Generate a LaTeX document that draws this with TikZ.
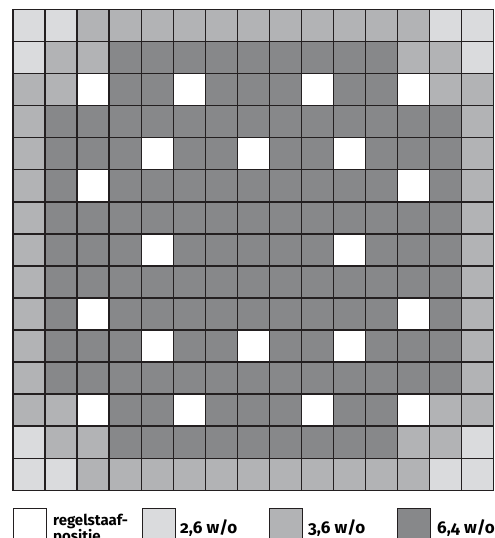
\documentclass[tikz,border=0pt]{standalone}
\usepackage{fontspec}
\setmainfont{Fira Sans}[Numbers=OldStyle]
\definecolor{lijn}{HTML}{231F20}
\definecolor{w}{HTML}{FFFFFF}
\definecolor{l}{HTML}{DADBDD}
\definecolor{m}{HTML}{B2B3B5}
\definecolor{d}{HTML}{87888A}
\begin{document}
\begin{tikzpicture}[x=1pt, y=-1pt,
  cel/.style={draw=lijn, line width=1.4pt},
  vak/.style={rectangle, draw=lijn, line width=1.4pt, minimum width=33pt,
              minimum height=33pt, inner sep=0pt, anchor=north west},
  uitleg/.style={font=\bfseries\fontsize{17}{17}\selectfont, anchor=base west,
                 align=left, inner sep=0pt}
]
  \useasboundingbox (0,0) rectangle (495,538);
  \clip (0,0) rectangle (495,538);

  % Kern: 15 x 15 posities
  \foreach \rij [count=\r from 0] in {
    {l,l,m,m,m,m,m,m,m,m,m,m,m,l,l},
    {l,m,m,d,d,d,d,d,d,d,d,d,m,m,l},
    {m,m,w,d,d,w,d,d,d,w,d,d,w,m,m},
    {m,d,d,d,d,d,d,d,d,d,d,d,d,d,m},
    {m,d,d,d,w,d,d,w,d,d,w,d,d,d,m},
    {m,d,w,d,d,d,d,d,d,d,d,d,w,d,m},
    {m,d,d,d,d,d,d,d,d,d,d,d,d,d,m},
    {m,d,d,d,w,d,d,d,d,d,w,d,d,d,m},
    {m,d,d,d,d,d,d,d,d,d,d,d,d,d,m},
    {m,d,w,d,d,d,d,d,d,d,d,d,w,d,m},
    {m,d,d,d,w,d,d,w,d,d,w,d,d,d,m},
    {m,d,d,d,d,d,d,d,d,d,d,d,d,d,m},
    {m,m,w,d,d,w,d,d,d,w,d,d,w,m,m},
    {l,m,m,d,d,d,d,d,d,d,d,d,m,m,l},
    {l,l,m,m,m,m,m,m,m,m,m,m,m,l,l}}
    \foreach \k [count=\c from 0] in \rij
      \path[cel, fill=\k] (13+\c*32.05, 9.5+\r*32.05) rectangle ++(32.05,32.05);

  % Legenda
  \node[vak, fill=w] (vakRegel) at (13,508) {};
  \node[vak, fill=l] (vak26) at (142,508) {};
  \node[vak, fill=m] (vak36) at (269,508) {};
  \node[vak, fill=d] (vak64) at (397,508) {};
  \node[uitleg, font=\bfseries\fontsize{15}{16}\selectfont] (tekstRegel)
    at (53,541) {regelstaaf-\\positie};
  \node[uitleg] (tekst26) at (180,533) {2,6 w/o};
  \node[uitleg] (tekst36) at (308,533) {3,6 w/o};
  \node[uitleg] (tekst64) at (437,533) {6,4 w/o};
\end{tikzpicture}
\end{document}
